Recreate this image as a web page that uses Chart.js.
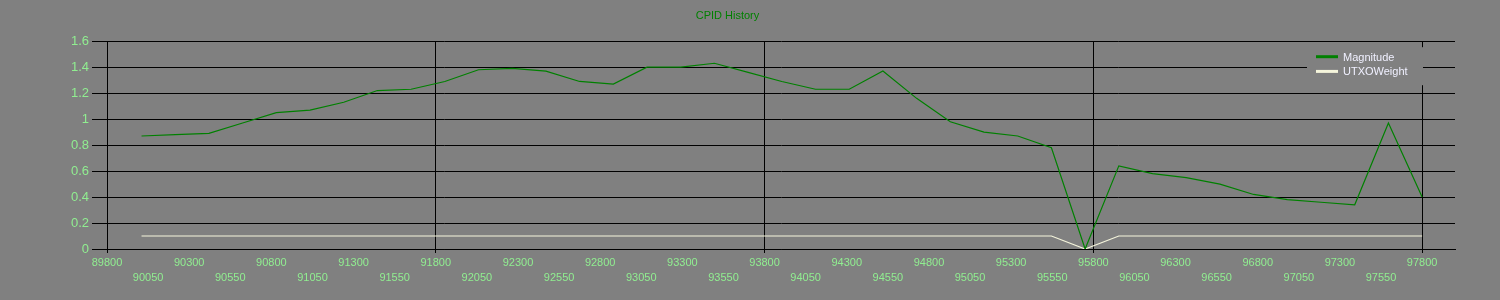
<!DOCTYPE html>
<html>
<head>
<meta charset="utf-8">
<title>CPID History</title>
<script src="https://cdn.jsdelivr.net/npm/chart.js@4.4.1/dist/chart.umd.min.js"></script>
<style>
  html, body { margin: 0; padding: 0; background: #808080; }
  canvas { display: block; background: #808080; }
</style>
</head>
<body>
<canvas id="myChart" width="1500" height="300"></canvas>
<script>
// block heights of each sample
var blocks = [
  90010, 90215, 90420, 90625, 90830, 91035, 91240, 91445, 91650, 91855,
  92060, 92265, 92470, 92675, 92880, 93085, 93290, 93495, 93700, 93905,
  94110, 94315, 94520, 94725, 94930, 95135, 95340, 95545, 95750, 95955,
  96160, 96365, 96570, 96775, 96980, 97185, 97390, 97595, 97800
];

var magnitude = [
  0.87, 0.88, 0.89, 0.97, 1.05, 1.07, 1.13, 1.22, 1.23, 1.29,
  1.38, 1.39, 1.37, 1.29, 1.27, 1.40, 1.40, 1.43, 1.36, 1.29,
  1.23, 1.23, 1.37, 1.16, 0.98, 0.90, 0.87, 0.78, 0.00, 0.64,
  0.58, 0.55, 0.50, 0.42, 0.38, 0.36, 0.34, 0.97, 0.40
];

var utxoWeight = [
  0.1, 0.1, 0.1, 0.1, 0.1, 0.1, 0.1, 0.1, 0.1, 0.1,
  0.1, 0.1, 0.1, 0.1, 0.1, 0.1, 0.1, 0.1, 0.1, 0.1,
  0.1, 0.1, 0.1, 0.1, 0.1, 0.1, 0.1, 0.1, 0.0, 0.1,
  0.1, 0.1, 0.1, 0.1, 0.1, 0.1, 0.1, 0.1, 0.1
];

var xTicks = [
  89800, 90050, 90300, 90550, 90800, 91050, 91300, 91550, 91800, 92050,
  92300, 92550, 92800, 93050, 93300, 93550, 93800, 94050, 94300, 94550,
  94800, 95050, 95300, 95550, 95800, 96050, 96300, 96550, 96800, 97050,
  97300, 97550, 97800
];
var xGridLines = [89800, 91800, 93800, 95800, 97800];

var yTicks = [0, 0.2, 0.4, 0.6, 0.8, 1, 1.2, 1.4, 1.6];

function toPoints(values) {
  return values.map(function (v, i) { return { x: blocks[i], y: v }; });
}

Chart.defaults.font.family = '"Liberation Sans", Arial, sans-serif';

// legend drawn inside the plot, top right, like the original
var insideLegend = {
  id: 'insideLegend',
  afterDraw: function (chart) {
    var ctx = chart.ctx;
    var area = chart.chartArea;
    var left = area.right - 148;
    var top = area.top + 6;
    ctx.save();
    ctx.fillStyle = '#808080';
    ctx.fillRect(left, top, 116, 38);
    ctx.font = '11px "Liberation Sans", Arial, sans-serif';
    ctx.textBaseline = 'middle';
    chart.data.datasets.forEach(function (ds, i) {
      var y = top + 9.5 + i * 14.7;
      ctx.strokeStyle = ds.borderColor;
      ctx.lineWidth = 3;
      ctx.beginPath();
      ctx.moveTo(left + 9, y);
      ctx.lineTo(left + 31, y);
      ctx.stroke();
      ctx.fillStyle = '#F0F0FF';
      ctx.fillText(ds.label, left + 36, y + 1);
    });
    ctx.restore();
  }
};

var ctx = document.getElementById('myChart').getContext('2d');
var myChart = new Chart(ctx, {
  type: 'line',
  data: {
    datasets: [
      {
        label: 'Magnitude',
        data: toPoints(magnitude),
        borderColor: '#008000',
        borderWidth: 1.2,
        pointRadius: 0,
        tension: 0,
        fill: false
      },
      {
        label: 'UTXOWeight',
        data: toPoints(utxoWeight),
        borderColor: '#F5F5DC',
        borderWidth: 1.2,
        pointRadius: 0,
        tension: 0,
        fill: false
      }
    ]
  },
  options: {
    responsive: false,
    animation: false,
    layout: { padding: { left: 0, right: 45, top: 0, bottom: 0 } },
    plugins: {
      legend: { display: false },
      tooltip: { enabled: false },
      title: {
        display: true,
        text: 'CPID History',
        color: '#008000',
        font: { size: 11, weight: 'normal' },
        padding: { top: 9, bottom: 19 }
      }
    },
    scales: {
      x: {
        type: 'linear',
        min: 89800,
        max: 98000,
        afterBuildTicks: function (axis) {
          axis.ticks = xTicks.map(function (v) { return { value: v }; });
        },
        afterFit: function (axis) { axis.height = 51; },
        ticks: {
          autoSkip: false,
          maxRotation: 0,
          color: '#90EE90',
          font: { size: 11, lineHeight: 1.35 },
          padding: 3,
          callback: function (v, i) { return i % 2 ? ['', String(v)] : String(v); }
        },
        grid: {
          color: function (c) {
            return (c.tick && xGridLines.indexOf(c.tick.value) >= 0) ? '#000000' : 'rgba(0,0,0,0)';
          },
          lineWidth: 1,
          tickLength: 4
        },
        border: { color: '#000000', width: 1 }
      },
      y: {
        min: 0,
        max: 1.6,
        afterBuildTicks: function (axis) {
          axis.ticks = yTicks.map(function (v) { return { value: v }; });
        },
        afterFit: function (axis) { axis.width = 107; },
        ticks: {
          color: '#90EE90',
          font: { size: 13 },
          padding: 3,
          callback: function (v) { return String(v); }
        },
        grid: { color: '#000000', lineWidth: 1, tickLength: 15 },
        border: { color: '#000000', width: 1 }
      }
    }
  },
  plugins: [insideLegend]
});
</script>
</body>
</html>
